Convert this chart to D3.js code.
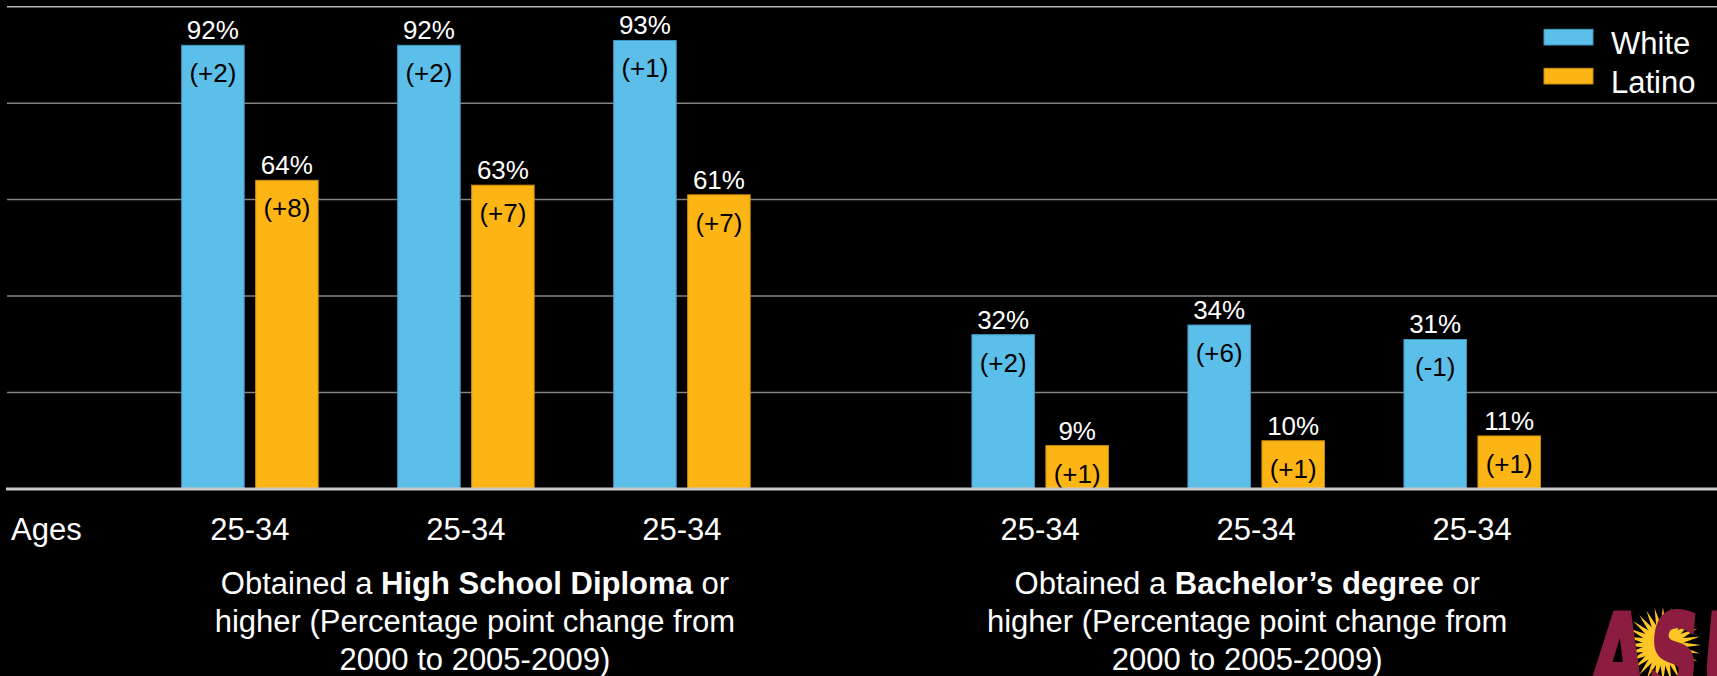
<!DOCTYPE html>
<html>
  <head>
    <meta charset="utf-8">
    <title>White vs Latino educational attainment, ages 25-34</title>
    <script src="https://d3js.org/d3.v7.min.js"></script>
    <style>
      body { margin: 0; background: #000; }
      text { font-family: "Liberation Sans", Arial, sans-serif; }
    </style>
  </head>
  <body>
    <div id="chart"></div>
    <script>
      // data
      var sections = ["hs", "ba"];
      var ageLabels = ["25-34", "25-34", "25-34"];
      var series = ["White", "Latino"];
      var whiteValues = [92, 92, 93, 32, 34, 31];
      var latinoValues = [64, 63, 61, 9, 10, 11];
      var whiteChange = ["+2", "+2", "+1", "+2", "+6", "-1"];
      var latinoChange = ["+8", "+7", "+7", "+1", "+1", "+1"];
      var gridTicks = [20, 40, 60, 80, 100];
      var sectionTitles = [
        [["Obtained a ", false], ["High School Diploma", true], [" or", false]],
        [["Obtained a ", false], ["Bachelor\u2019s degree", true], [" or", false]]
      ];
      var titleRest = ["higher (Percentage point change from", "2000 to 2005-2009)"];

      var width = 1717, height = 676;
      var colors = { White: "#5bbfe9", Latino: "#fdb515" };
      var edges = { White: "#3f97c0", Latino: "#c98c0a" };

      var svg = d3.select("#chart")
        .append("svg")
        .attr("width", width)
        .attr("height", height)
        .style("display", "block")
        .style("background", "#000");

      // build rows from the arrays
      var rows = whiteValues.map(function(v, i) {
        return {
          section: sections[Math.floor(i / 3)],
          slot: i % 3,
          age: ageLabels[i % 3],
          bars: [
            { key: "White", value: v, change: whiteChange[i] },
            { key: "Latino", value: latinoValues[i], change: latinoChange[i] }
          ]
        };
      });

      var y = d3.scaleLinear().domain([0, 100]).range([489, 6.7]);
      var x0 = d3.scaleBand().domain(sections).range([141.9, 1580.2]).paddingInner(0.18);
      var x1 = d3.scaleBand().domain([0, 1, 2]).range([0, x0.bandwidth()]);
      var x2 = d3.scaleBand().domain(series).range([0, x1.bandwidth()])
        .paddingInner(0.155).paddingOuter(0.537);

      // gridlines
      svg.append("g")
        .selectAll("line")
        .data(gridTicks)
        .enter().append("line")
        .attr("x1", 7).attr("x2", width)
        .attr("y1", function(d) { return y(d); })
        .attr("y2", function(d) { return y(d); })
        .attr("stroke", function(d) { return d === 100 ? "#b8b8b8" : "#848484"; })
        .attr("stroke-width", 1.5);

      // groups
      var group = svg.append("g")
        .selectAll(".grp")
        .data(rows)
        .enter().append("g")
        .attr("class", "grp")
        .attr("transform", function(d) { return "translate(" + (x0(d.section) + x1(d.slot)) + ",0)"; });

      var bar = group.selectAll(".bar")
        .data(function(d) { return d.bars; })
        .enter().append("g")
        .attr("class", "bar");

      bar.append("rect")
        .attr("x", function(d) { return x2(d.key); })
        .attr("y", function(d) { return y(d.value); })
        .attr("width", x2.bandwidth())
        .attr("height", function(d) { return y(0) - y(d.value); })
        .attr("fill", function(d) { return colors[d.key]; })
        .attr("stroke", function(d) { return edges[d.key]; })
        .attr("stroke-width", 1);

      bar.append("text")
        .attr("x", function(d) { return x2(d.key) + x2.bandwidth() / 2; })
        .attr("y", function(d) { return y(d.value) - 6; })
        .attr("text-anchor", "middle")
        .attr("fill", "#fff")
        .style("font-size", "26px")
        .text(function(d) { return d.value + "%"; });

      bar.append("text")
        .attr("x", function(d) { return x2(d.key) + x2.bandwidth() / 2; })
        .attr("y", function(d) { return y(d.value) + 37; })
        .attr("text-anchor", "middle")
        .attr("fill", "#000")
        .style("font-size", "26px")
        .text(function(d) { return "(" + d.change + ")"; });

      // baseline
      svg.append("line")
        .attr("x1", 6).attr("x2", width)
        .attr("y1", y(0)).attr("y2", y(0))
        .attr("stroke", "#c8c8c8")
        .attr("stroke-width", 3);

      // age tick labels
      group.append("text")
        .attr("x", x1.bandwidth() / 2)
        .attr("y", 540)
        .attr("text-anchor", "middle")
        .attr("fill", "#fff")
        .style("font-size", "31px")
        .text(function(d) { return d.age; });

      svg.append("text")
        .attr("x", 11)
        .attr("y", 540)
        .attr("fill", "#fff")
        .style("font-size", "31px")
        .text("Ages");

      // section titles
      var titles = svg.append("g")
        .selectAll(".title")
        .data(sections)
        .enter().append("text")
        .attr("class", "title")
        .attr("text-anchor", "middle")
        .attr("fill", "#fff")
        .style("font-size", "31px")
        .attr("transform", function(d) { return "translate(" + (x0(d) + x0.bandwidth() / 2 + (d === "hs" ? 9 : -9)) + ",594)"; });

      titles.each(function(d, i) {
        var t = d3.select(this);
        var first = t.append("tspan").attr("x", 0).attr("dy", 0);
        sectionTitles[i].forEach(function(part) {
          first.append("tspan")
            .style("font-weight", part[1] ? "bold" : "normal")
            .text(part[0]);
        });
        titleRest.forEach(function(line) {
          t.append("tspan").attr("x", 0).attr("dy", 38).text(line);
        });
      });

      // legend
      var legend = svg.append("g")
        .selectAll(".legend")
        .data(series)
        .enter().append("g")
        .attr("class", "legend")
        .attr("transform", function(d, i) { return "translate(1544," + (29.3 + i * 39) + ")"; });
      legend.append("rect")
        .attr("width", 49).attr("height", 15.7)
        .attr("fill", function(d) { return colors[d]; })
        .attr("stroke", function(d) { return edges[d]; })
        .attr("stroke-width", 1);
      legend.append("text")
        .attr("x", 67)
        .attr("y", 25)
        .attr("fill", "#fff")
        .style("font-size", "31px")
        .text(function(d) { return d; });

      // ASU logo (rough), cut at the right edge like the slide
      var logo = svg.append("g").attr("transform", "translate(1663,645)");
      var rays = d3.range(28);
      logo.selectAll("path")
        .data(rays)
        .enter().append("path")
        .attr("d", "M-3,-16 L0,-38 L3,-16 Z")
        .attr("fill", "#ffc627")
        .attr("transform", function(d) { return "rotate(" + (d * 360 / rays.length) + ")"; });
      logo.append("circle").attr("r", 19).attr("fill", "#ffc627");
      svg.append("text")
        .attr("transform", "translate(1588,694) scale(0.62,1) skewX(-8)")
        .attr("fill", "#8c1d40")
        .attr("stroke", "#8c1d40")
        .attr("stroke-width", 4)
        .style("font-family", "'DejaVu Sans', sans-serif")
        .style("font-weight", "bold")
        .style("font-size", "112px")
        .style("letter-spacing", "6px")
        .text("ASU");
    </script>
  </body>
</html>
